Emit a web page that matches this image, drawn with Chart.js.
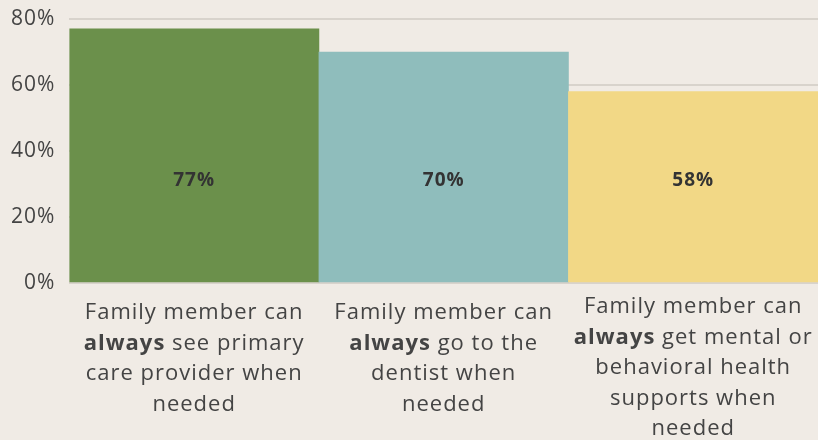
<!DOCTYPE html>
<html lang="en">
<head>
  <meta charset="UTF-8">
  <title>Family member access</title>
  <script src="https://cdn.jsdelivr.net/npm/chart.js"></script>
  <style>
    html, body { margin: 0; padding: 0; background: #f0ebe5; }
    #wrap { width: 818px; height: 440px; }
  </style>
</head>
<body>
  <div id="wrap"><canvas id="chart"></canvas></div>
  <script>
    // data
    const categories = [
      'Family member can always see primary care provider when needed',
      'Family member can always go to the dentist when needed',
      'Family member can always get mental or behavioral health supports when needed'
    ];
    const values = [77, 70, 58];
    const barColors = ['#6b904b', '#8fbdbc', '#f2d886'];
    const yTicks = [0, 20, 40, 60, 80];
    // wrapped label lines, *word* = bold
    const labelLines = [
      ['Family member can', '*always* see primary', 'care provider when', 'needed'],
      ['Family member can', '*always* go to the', 'dentist when', 'needed'],
      ['Family member can', '*always* get mental or', 'behavioral health', 'supports when', 'needed']
    ];

    const FONT = '"Open Sans", sans-serif';
    const textColor = '#444444';

    // the original uses a wide geometric face, widen Open Sans a bit
    const spacing = {
      id: 'spacing',
      beforeDraw(chart) { chart.ctx.letterSpacing = '1px'; }
    };

    const richLabels = {
      id: 'richLabels',
      afterDraw(chart) {
        const ctx = chart.ctx;
        const x = chart.scales.x, y = chart.scales.y;
        ctx.save();
        ctx.textBaseline = 'middle';

        // values inside the bars
        ctx.letterSpacing = '1px';
        ctx.font = 'bold 19px ' + FONT;
        ctx.fillStyle = '#333333';
        ctx.textAlign = 'center';
        values.forEach((v, i) => {
          ctx.fillText(v + '%', x.getPixelForValue(i), y.getPixelForValue(31));
        });

        // category labels under the axis
        const lineH = 30.5;
        ctx.letterSpacing = '1px';
        ctx.textAlign = 'left';
        labelLines.forEach((lines, i) => {
          const cx = x.getPixelForValue(i);
          let ly = lines.length > 4 ? 307 : 313;
          lines.forEach(line => {
            const parts = line.split(/(\*[^*]+\*)/).filter(s => s.length);
            const segs = parts.map(p => {
              const bold = p.startsWith('*');
              return { text: bold ? p.slice(1, -1) : p, font: (bold ? 'bold ' : '') + '22px ' + FONT };
            });
            let w = 0;
            segs.forEach(s => { ctx.font = s.font; s.w = ctx.measureText(s.text).width; w += s.w; });
            let sx = cx - w / 2;
            segs.forEach(s => {
              ctx.font = s.font;
              ctx.fillStyle = textColor;
              ctx.fillText(s.text, sx, ly);
              sx += s.w;
            });
            ly += lineH;
          });
        });
        ctx.restore();
      }
    };

    new Chart(document.getElementById('chart'), {
      type: 'bar',
      data: {
        labels: categories,
        datasets: [{
          data: values,
          backgroundColor: barColors,
          categoryPercentage: 1.0,
          barPercentage: 1.0,
          borderWidth: 0
        }]
      },
      options: {
        responsive: true,
        maintainAspectRatio: false,
        animation: false,
        layout: { padding: { top: 19, right: 0, bottom: 149, left: 0 } },
        plugins: { legend: { display: false }, tooltip: { enabled: false } },
        scales: {
          x: {
            ticks: { display: false },
            grid: { display: false },
            border: { display: true, color: '#d8d3cc', width: 1 }
          },
          y: {
            min: 0,
            max: 80,
            afterBuildTicks: (axis) => { axis.ticks = yTicks.map(v => ({ value: v })); },
            afterFit: (axis) => { axis.paddingTop = 0; axis.paddingBottom = 0; },
            ticks: {
              callback: (v) => v + '%',
              color: textColor,
              font: { family: FONT, size: 21 },
              padding: 14
            },
            grid: { color: '#d8d3cc', lineWidth: 2, drawTicks: false },
            border: { display: false }
          }
        }
      },
      plugins: [spacing, richLabels]
    });
  </script>
</body>
</html>
